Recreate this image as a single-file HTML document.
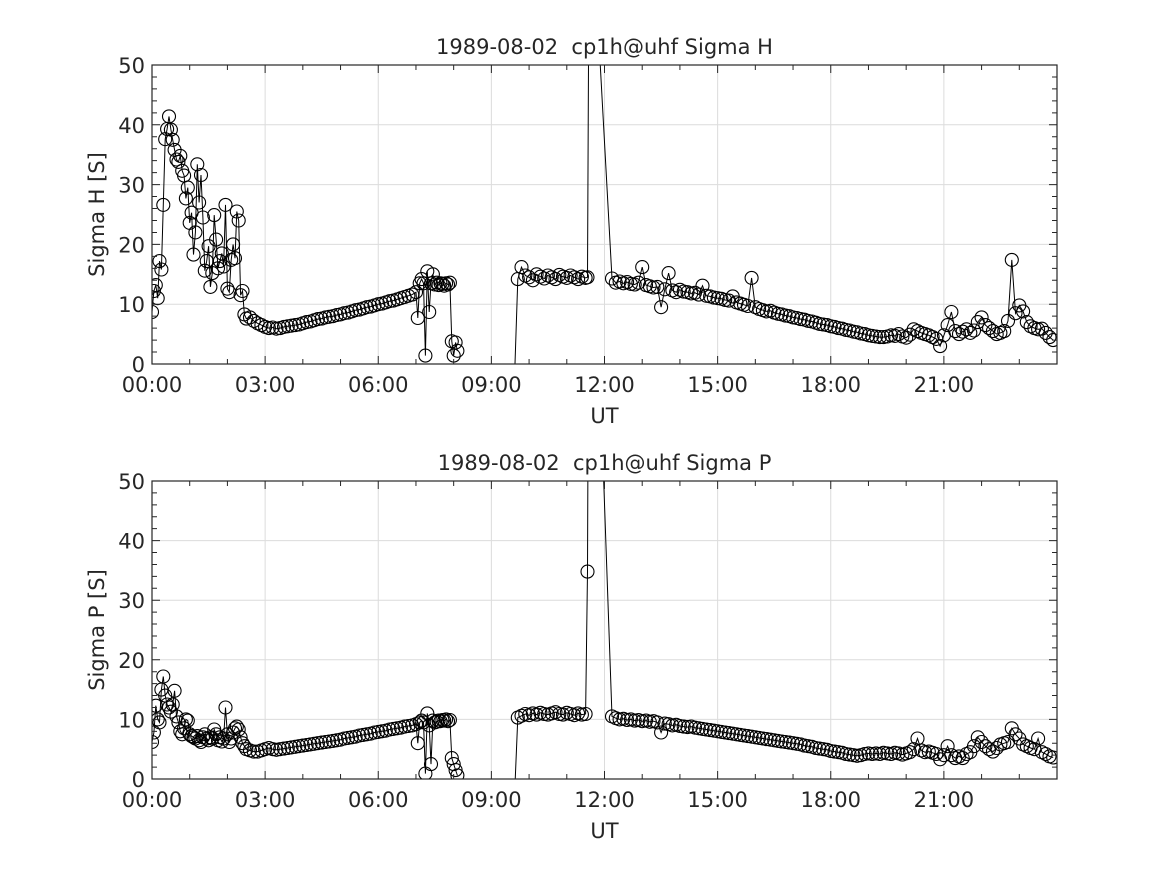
<!DOCTYPE html>
<html><head><meta charset="utf-8"><style>
body{margin:0;background:#fff}
svg text{font-family:"DejaVu Sans","Liberation Sans",sans-serif;fill:#262626}
</style></head><body>
<svg id="fig" width="1167" height="875" viewBox="0 0 1167 875" xmlns="http://www.w3.org/2000/svg">
<rect width="1167" height="875" fill="#fff"/>
</svg>
<script>
const times = [
0,0.05,0.1,0.15,0.2,0.25,0.3,0.35,0.4,0.45,
0.5,0.55,0.6,0.65,0.7,0.75,0.8,0.85,0.9,0.95,
1,1.05,1.1,1.15,1.2,1.25,1.3,1.35,1.4,1.45,
1.5,1.55,1.6,1.65,1.7,1.75,1.8,1.85,1.9,1.95,
2,2.05,2.1,2.15,2.2,2.25,2.3,2.35,2.4,2.45,
2.5,
2.6,2.7,2.8,2.9,3,3.1,3.2,3.3,3.4,3.5,
3.6,3.7,3.8,3.9,4,4.1,4.2,4.3,4.4,4.5,
4.6,4.7,4.8,4.9,5,5.1,5.2,5.3,5.4,5.5,
5.6,5.7,5.8,5.9,6,6.1,6.2,6.3,6.4,6.5,
6.6,6.7,6.8,6.9,7,
7.05,7.1,7.15,7.2,7.25,7.3,7.35,7.4,7.45,7.5,
7.55,7.6,7.65,7.7,7.75,7.8,7.85,7.9,7.95,8,
8.05,8.1,
8.5,
9.6,9.7,9.8,9.9,10,10.1,10.2,10.3,10.4,10.5,
10.6,10.7,10.8,10.9,11,11.1,11.2,11.3,11.4,11.5,
11.55,11.6,
12.2,12.3,12.4,12.5,12.6,12.7,12.8,12.9,13,13.1,
13.2,13.3,13.4,13.5,13.6,13.7,13.8,13.9,14,14.1,
14.2,14.3,14.4,14.5,14.6,14.7,14.8,14.9,15,15.1,
15.2,15.3,15.4,15.5,15.6,15.7,15.8,15.9,16,16.1,
16.2,16.3,16.4,16.5,16.6,16.7,16.8,16.9,17,17.1,
17.2,17.3,17.4,17.5,17.6,17.7,17.8,17.9,18,18.1,
18.2,18.3,18.4,18.5,18.6,18.7,18.8,18.9,19,19.1,
19.2,19.3,19.4,19.5,19.6,19.7,19.8,19.9,20,20.1,
20.2,20.3,20.4,20.5,20.6,20.7,20.8,20.9,21,21.1,
21.2,21.3,21.4,21.5,21.6,21.7,21.8,21.9,22,22.1,
22.2,22.3,22.4,22.5,22.6,22.7,22.8,22.9,23,23.1,
23.2,23.3,23.4,23.5,23.6,23.7,23.8,23.9];
const sigmaH = [
8.7,12.2,13.2,11.0,17.2,15.8,26.6,37.6,39.3,41.4,
39.2,37.5,35.8,34.2,33.8,34.8,32.3,31.5,27.7,29.5,
23.6,25.3,18.3,22.0,33.4,27.0,31.6,24.5,15.6,17.2,
19.7,12.9,15.2,24.9,20.8,16.0,17.2,18.5,16.3,26.6,
12.6,12.0,17.4,20.0,17.7,25.5,24.0,11.5,12.2,8.3,
7.6,
7.8,7.2,6.8,6.5,6.2,6.0,6.1,5.9,6.0,6.2,
6.3,6.4,6.5,6.6,6.8,7.0,7.1,7.3,7.5,7.6,
7.8,7.9,8.0,8.2,8.3,8.5,8.6,8.8,9.0,9.1,
9.3,9.5,9.6,9.8,10.0,10.1,10.3,10.5,10.6,10.8,
11.0,11.2,11.4,11.6,12.0,
7.7,13.5,14.2,13.5,1.4,15.5,8.7,13.5,15.0,13.3,
13.6,13.2,13.5,13.4,13.1,13.5,13.3,13.6,3.8,1.4,
3.6,2.2,
null,
-5,14.2,16.2,14.8,14.5,14.0,15.0,14.6,14.3,14.8,
14.5,14.2,14.9,14.6,14.4,14.8,14.5,14.2,14.6,14.4,
14.5,83,
14.3,13.6,13.8,13.5,13.7,13.4,13.3,13.6,16.2,13.2,
13.0,12.8,12.9,9.5,12.5,15.2,12.3,12.0,12.4,12.1,
12.0,11.8,11.9,11.6,13.1,11.4,11.3,11.1,11.0,10.9,
10.7,10.6,11.3,10.3,10.1,9.9,9.7,14.4,9.5,9.2,
9.0,8.8,8.9,8.6,8.4,8.3,8.1,8.0,7.8,7.7,
7.5,7.4,7.2,7.1,6.9,6.7,6.6,6.5,6.3,6.2,
6.0,5.9,5.7,5.6,5.4,5.3,5.1,5.0,4.8,4.7,
4.6,4.5,4.5,4.6,4.8,4.7,5.0,4.6,4.4,4.9,
5.8,5.5,5.2,5.0,4.8,4.5,4.2,3.0,4.8,6.5,
8.7,5.5,5.0,5.4,5.8,5.2,5.6,7.0,7.8,6.5,
6.0,5.5,5.0,5.2,5.5,7.2,17.4,8.5,9.8,8.8,
7.0,6.3,6.0,5.8,5.9,5.2,4.5,4.0];
const sigmaP = [
6.2,7.8,12.3,10.0,9.5,15.0,17.2,14.0,12.5,12.0,
11.3,12.5,14.8,10.5,9.5,8.0,7.5,8.5,10.0,9.8,
7.5,7.2,7.0,6.8,7.2,6.5,6.2,7.0,7.5,6.8,
6.5,7.0,6.8,8.3,7.5,6.5,7.0,6.3,6.8,12.0,
7.5,6.2,6.8,7.8,8.5,8.8,8.3,7.0,6.0,5.5,
5.0,
4.8,4.6,4.6,4.8,5.0,5.2,5.0,4.9,5.0,5.1,
5.2,5.3,5.4,5.5,5.6,5.7,5.8,5.9,6.0,6.1,
6.2,6.3,6.4,6.5,6.6,6.8,6.9,7.0,7.1,7.3,
7.4,7.5,7.6,7.8,7.9,8.0,8.1,8.3,8.4,8.5,
8.6,8.8,8.9,9.0,9.2,
6.0,9.5,9.8,9.5,0.9,11.0,9.0,2.5,9.8,9.5,
9.6,9.8,9.7,9.9,9.8,10.0,9.7,9.9,3.5,2.5,
1.5,0.6,
null,
-5,10.3,10.6,10.9,10.7,11.0,10.8,11.1,10.9,10.8,
11.0,11.2,10.9,10.8,11.1,10.9,10.7,11.0,10.8,10.9,
34.8,118,
10.5,10.2,10.0,10.1,9.9,10.0,9.8,9.9,9.7,9.8,
9.6,9.7,9.5,7.8,9.3,9.2,9.0,9.1,8.9,8.8,
8.7,8.8,8.6,8.5,8.4,8.3,8.2,8.1,8.0,7.9,
7.8,7.7,7.6,7.5,7.4,7.3,7.2,7.1,7.0,6.9,
6.8,6.7,6.6,6.5,6.4,6.3,6.2,6.1,6.0,5.9,
5.8,5.6,5.5,5.4,5.2,5.1,5.0,4.9,4.7,4.6,
4.5,4.4,4.2,4.1,4.0,3.9,4.0,4.2,4.3,4.2,
4.3,4.2,4.4,4.3,4.2,4.4,4.3,4.1,4.3,4.5,
5.0,6.8,4.8,4.5,4.6,4.4,4.2,3.3,4.0,5.5,
4.0,3.5,3.8,3.5,4.2,4.5,5.5,7.0,6.2,5.5,
5.0,4.6,5.2,5.8,6.0,6.2,8.5,7.5,6.8,5.8,
5.5,5.2,5.0,6.8,4.5,4.2,3.8,3.6];
const xTickLabels = ["00:00","03:00","06:00","09:00","12:00","15:00","18:00","21:00"];
const yTickLabels = [0,10,20,30,40,50];

const NS="http://www.w3.org/2000/svg";
const svg=document.getElementById('fig');
function mk(tag,attrs,parent){const e=document.createElementNS(NS,tag);for(const k in attrs)e.setAttribute(k,attrs[k]);(parent||svg).appendChild(e);return e;}

function panel(idx,top,bottom,title,ylab,vals){
  const L=152,R=1057,T=top,B=bottom;
  const xs=h=>L+h/24*(R-L);
  const ys=v=>B-v/50*(B-T);
  const g=mk('g',{});
  
  
  mk('rect',{x:L,y:T,width:R-L,height:B-T,fill:'#fff'},g);
  for(let i=1;i<8;i++){const x=xs(i*3);const l=mk('line',{x1:x,x2:x,y1:T,y2:B,stroke:'#dcdcdc','stroke-width':1},g);}
  for(let i=1;i<5;i++){const y=ys(i*10);const l=mk('line',{x1:L,x2:R,y1:y,y2:y,stroke:'#dcdcdc','stroke-width':1},g);}
  const cid='clip'+idx;
  const cp=mk('clipPath',{id:cid},g);mk('rect',{x:L,y:T,width:R-L,height:B-T},cp);
  const dg=mk('g',{'clip-path':'url(#'+cid+')'},g);
  let d='',pen=false;
  for(let i=0;i<times.length;i++){const v=vals[i];if(v===null||v===undefined){pen=false;continue;}
    d+=(pen?'L':'M')+xs(times[i]).toFixed(1)+' '+ys(v).toFixed(1);pen=true;}
  const line=mk('path',{d:d,fill:'none',stroke:'#000','stroke-width':1},dg);
  
  
  for(let i=0;i<times.length;i++){const v=vals[i];if(v===null||v===undefined)continue;
    const c=mk('circle',{cx:xs(times[i]).toFixed(1),cy:ys(v).toFixed(1),r:6.5,fill:'none',stroke:'#000','stroke-width':1.1},dg);
    
    }
  let tk='';
  for(let h=0;h<=24;h++){const x=xs(h);const len=(h%3===0)?8:5;tk+=`M${x} ${B}v${-len}M${x} ${T}v${len}`;}
  for(let v=0;v<=50;v+=2){const y=ys(v);const len=(v%10===0)?8:5;tk+=`M${L} ${y}h${len}M${R} ${y}h${-len}`;}
  mk('path',{d:tk,stroke:'#262626','stroke-width':1,fill:'none'},g);
  const fr=mk('rect',{x:L,y:T,width:R-L,height:B-T,fill:'none',stroke:'#262626','stroke-width':1.2},g);
  
  xTickLabels.forEach((s,i)=>{const t=mk('text',{x:xs(i*3),y:B+28,'text-anchor':'middle','font-size':21},g);t.textContent=s;
    });
  yTickLabels.forEach(v=>{const t=mk('text',{x:L-7,y:ys(v)+8,'text-anchor':'end','font-size':21},g);t.textContent=v;
    });
  const xt=mk('text',{x:(L+R)/2,y:B+59,'text-anchor':'middle','font-size':21},g);xt.textContent='UT';
  
  const yt=mk('text',{x:0,y:0,'text-anchor':'middle','font-size':21,transform:`translate(104 ${(T+B)/2}) rotate(-90)`},g);yt.textContent=ylab;
  
  const tt=mk('text',{x:(L+R)/2,y:T-11,'text-anchor':'middle','font-size':21},g);tt.textContent=title;
  
}
panel(0,65,364,'1989-08-02\u00a0 cp1h@uhf Sigma H','Sigma H [S]',sigmaH);
panel(1,481,779,'1989-08-02\u00a0 cp1h@uhf Sigma P','Sigma P [S]',sigmaP);
</script>
</body></html>
